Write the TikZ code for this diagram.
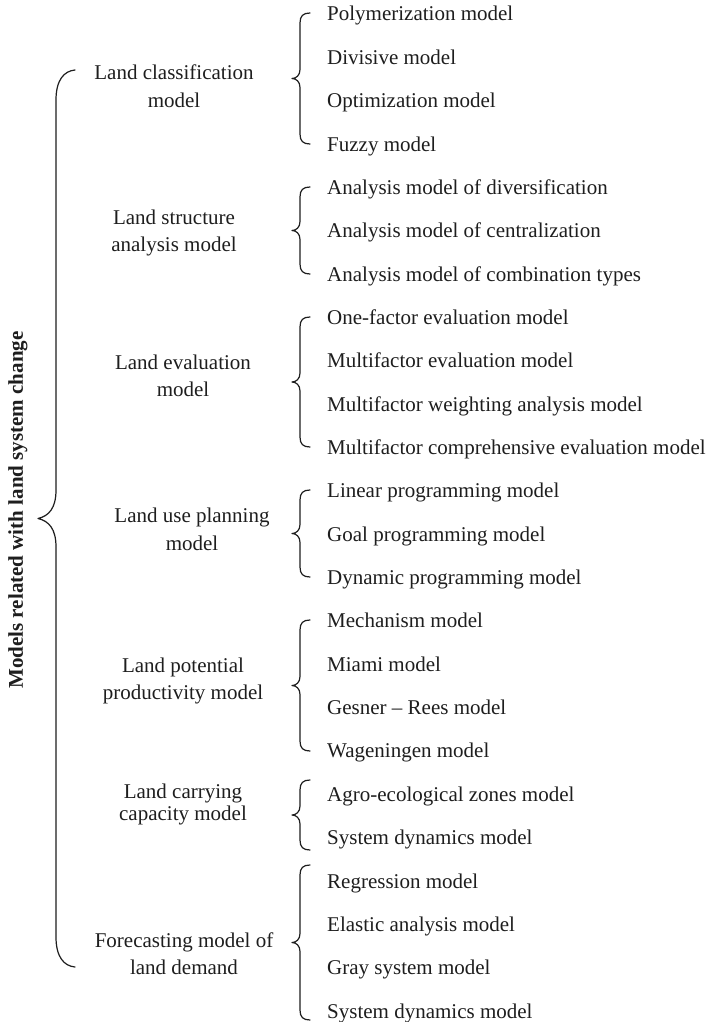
\documentclass[tikz,border=0pt]{standalone}
\usepackage{fontspec}
\setmainfont{Liberation Serif}
\definecolor{ink}{RGB}{30,30,30}
\tikzset{
  item/.style={anchor=base west, inner sep=0pt, text=ink, font=\fontsize{21}{27}\selectfont},
  grp/.style={align=center, inner sep=0pt, text=ink, font=\fontsize{21}{27.5}\selectfont},
  grptight/.style={align=center, inner sep=0pt, text=ink, font=\fontsize{21}{22}\selectfont},
  ttl/.style={inner sep=0pt, text=ink, font=\fontsize{21}{25}\selectfont\bfseries},
  brc/.style={draw=ink, line width=1.2pt, line join=round, line cap=round}
}
\newcommand\mysbrace[3]{%
  \pgfmathsetmacro\brT{#1}\pgfmathsetmacro\brA{#2}\pgfmathsetmacro\brB{#3}\pgfmathsetmacro\brM{(#2+#3)/2}%
  \draw[brc] ({\brT+18},\brA) .. controls ({\brT+11},\brA) and ({\brT+8},{\brA+3}) .. ({\brT+8},{\brA+10})
     -- ({\brT+8},{\brM-9}) .. controls ({\brT+8},{\brM-3}) and ({\brT+4},\brM) .. (\brT,\brM)
     .. controls ({\brT+4},\brM) and ({\brT+8},{\brM+3}) .. ({\brT+8},{\brM+9})
     -- ({\brT+8},{\brB-10}) .. controls ({\brT+8},{\brB-3}) and ({\brT+11},\brB) .. ({\brT+18},\brB);}
\begin{document}
\begin{tikzpicture}[x=1pt,y=-1pt]
\useasboundingbox (0,0) rectangle (708,1022);
\fill[white] (0,0) rectangle (708,1022);

% title
\node[ttl, rotate=90] (title) at (18,510) {Models related with land system change};

% big brace
\coordinate (bt) at (75,70);
\coordinate (bb) at (75,967);
\draw[brc] (bt) .. controls (64,71) and (56,80) .. (56,100)
  -- (56,490) .. controls (56,508) and (49,516) .. (38,518.5)
  .. controls (49,521) and (56,529) .. (56,547)
  -- (56,937) .. controls (56,957) and (64,966) .. (bb);

% group labels
\node[grp] (g1) at (174,88) {\strut Land classification\\model\strut};
\node[grp] (g2) at (174,232.5) {\strut Land structure\\analysis model\strut};
\node[grp] (g3) at (183,377.5) {\strut Land evaluation\\model\strut};
\node[grp] (g4) at (192,531) {\strut Land use planning\\model\strut};
\node[grp] (g5) at (183,680.5) {\strut Land potential\\productivity model\strut};
\node[grptight] (g6) at (183,805) {\strut Land carrying\\capacity model\strut};
\node[grp] (g7) at (184,955.5) {\strut Forecasting model of\\land demand\strut};

% items (baseline = visual centre + 7)
\node[item] (i0)  at (327,21)      {Polymerization model};
\node[item] (i1)  at (327,64.35)   {Divisive model};
\node[item] (i2)  at (327,107.7)   {Optimization model};
\node[item] (i3)  at (327,151.05)  {Fuzzy model};
\node[item] (i4)  at (327,194.4)   {Analysis model of diversification};
\node[item] (i5)  at (327,237.75)  {Analysis model of centralization};
\node[item] (i6)  at (327,281.1)   {Analysis model of combination types};
\node[item] (i7)  at (327,324.45)  {One-factor evaluation model};
\node[item] (i8)  at (327,367.8)   {Multifactor evaluation model};
\node[item] (i9)  at (327,411.15)  {Multifactor weighting analysis model};
\node[item] (i10) at (327,454.5)   {Multifactor comprehensive evaluation model};
\node[item] (i11) at (327,497.85)  {Linear programming model};
\node[item] (i12) at (327,541.2)   {Goal programming model};
\node[item] (i13) at (327,584.55)  {Dynamic programming model};
\node[item] (i14) at (327,627.9)   {Mechanism model};
\node[item] (i15) at (327,671.25)  {Miami model};
\node[item] (i16) at (327,714.6)   {Gesner -- Rees model};
\node[item] (i17) at (327,757.95)  {Wageningen model};
\node[item] (i18) at (327,801.3)   {Agro-ecological zones model};
\node[item] (i19) at (327,844.65)  {System dynamics model};
\node[item] (i20) at (327,888.0)   {Regression model};
\node[item] (i21) at (327,931.35)  {Elastic analysis model};
\node[item] (i22) at (327,974.7)   {Gray system model};
\node[item] (i23) at (327,1018.05) {System dynamics model};

% small braces
\mysbrace{292}{13}{144}
\mysbrace{292}{187}{274}
\mysbrace{292}{317}{447}
\mysbrace{292}{490}{577}
\mysbrace{292}{620}{751}
\mysbrace{292}{780}{850}
\mysbrace{292}{865}{1020}
\end{tikzpicture}
\end{document}
